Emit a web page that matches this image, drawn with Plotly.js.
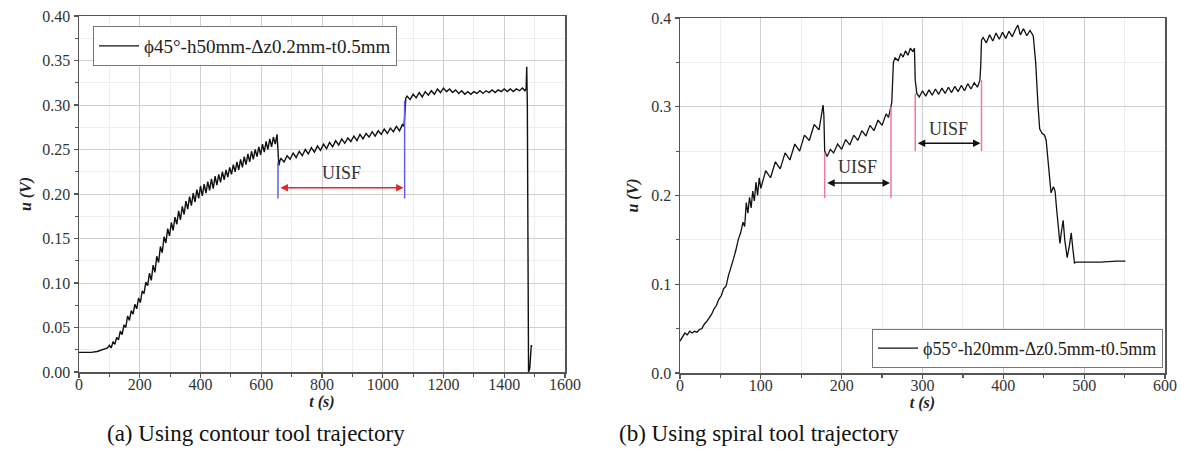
<!DOCTYPE html>
<html><head><meta charset="utf-8">
<script src="https://cdn.plot.ly/plotly-3.0.1.min.js"></script>
<style>html,body{margin:0;padding:0;background:#fff}#chart{width:1181px;height:455px}</style>
</head><body><div id="chart"></div>
<script>
// ---------- (a) contour tool trajectory ----------
const tA1 = [0,20,40,60,80,94];
const uA1 = [.022,.022,.022,.023,.025,.027];
const tA2 = [100,106,112,118,124,130,136,142,148,154,
  160,166,172,178,184,190,196,202,208,214,
  220,226,232,238,244,250,256,262,268,274,
  280,286,292,298,304,310,316,322,328,334,
  340,346,352,358,364,370,376,382,388,394,
  400,406,412,418,424,430,436,442,448,454,
  460,466,472,478,484,490,496,502,508,514,
  520,526,532,538,544,550,556,562,568,574,
  580,586,592,598,604,610,616,622,628,634,
  640,646,652,655,658,662];
const uA2 = [.030,.027,.034,.031,.039,.036,.046,.042,.053,.050,
  .063,.058,.069,.065,.076,.071,.083,.078,.091,.088,
  .101,.097,.111,.103,.120,.112,.130,.123,.141,.134,
  .152,.145,.161,.153,.168,.159,.174,.166,.181,.171,
  .186,.177,.192,.183,.197,.187,.201,.191,.205,.195,
  .209,.198,.211,.201,.214,.204,.217,.206,.220,.210,
  .222,.213,.225,.216,.227,.219,.230,.222,.233,.225,
  .236,.227,.239,.230,.242,.233,.245,.236,.248,.239,
  .250,.242,.253,.244,.256,.247,.259,.250,.262,.253,
  .264,.256,.267,.248,.232,.238];
const tA3 = [665,675,685,695,705,715,725,735,745,755,
  765,775,785,795,805,815,825,835,845,855,
  865,875,885,895,905,915,925,935,945,955,
  965,975,985,995,1005,1015,1025,1035,1045,1055,
  1065,1070,1073,1076];
const uA3 = [.240,.236,.243,.239,.246,.241,.248,.243,.250,.245,
  .252,.247,.254,.249,.256,.251,.258,.253,.260,.255,
  .262,.257,.263,.259,.265,.260,.267,.262,.268,.264,
  .270,.265,.271,.267,.273,.268,.274,.270,.276,.271,
  .278,.276,.300,.308];
const tA4 = [1080,1090,1100,1110,1120,1130,1140,1150,1160,1170,
  1180,1190,1200,1210,1220,1230,1240,1250,1260,1270,
  1280,1290,1300,1310,1320,1330,1340,1350,1360,1370,
  1380,1390,1400,1410,1420,1430,1440,1450,1460,
  1468,1472,1474,1476,1478,1480,1484,1487,1489,1491];
const uA4 = [.310,.306,.312,.308,.314,.309,.315,.311,.316,.312,
  .318,.314,.319,.315,.318,.314,.317,.313,.316,.312,
  .315,.312,.315,.313,.316,.313,.316,.314,.317,.314,
  .317,.315,.318,.315,.318,.315,.318,.316,.319,
  .316,.318,.343,.300,.150,.000,.004,.022,.030,.028];

// ---------- (b) spiral tool trajectory ----------
const tB1 = [0,3,6,9,12,15,18,21,24,27,
  30,33,36,39,42,45,48,51,54,57,
  60,63,66,69,72,75,78,80,82,84,
  86,88,90,92,94,96,98,100,106,112,
  118,124,130,136,142,148,154,160,166,172,
  177,178];
const uB1 = [.036,.040,.045,.043,.047,.045,.047,.046,.049,.050,
  .055,.058,.062,.066,.072,.076,.083,.087,.095,.098,
  .110,.118,.128,.138,.150,.158,.170,.165,.192,.180,
  .198,.186,.205,.194,.215,.200,.220,.208,.228,.220,
  .238,.230,.248,.240,.258,.250,.268,.262,.280,.274,
  .302,.290];
const tB2 = [179,182,186,190,195,200,205,210,
  215,220,225,230,235,240,245,250,255,258,
  261,262,264,266,270,273,276,279,282,285,
  288,290];
const uB2 = [.250,.244,.252,.248,.258,.252,.263,.257,
  .268,.262,.273,.267,.279,.273,.285,.279,.292,.288,
  .300,.305,.350,.355,.352,.360,.356,.363,.358,.366,
  .362,.366];
const tB3 = [291,293,296,300,304,308,312,316,
  320,324,328,332,336,340,344,348,352,356,
  360,364,368,371,372];
const uB3 = [.330,.315,.311,.318,.312,.319,.313,.320,
  .314,.321,.315,.322,.316,.323,.317,.324,.318,.326,
  .320,.327,.322,.330,.345];
const tB4 = [373,375,379,383,387,391,395,399,403,407,411,415,418,421,425,
  429,433,437,440,443,445,448,451,453,456,
  459,462,464,466,468,470,472,474,476,479,
  482,484,486,488,490,500,520,540,551];
const uB4 = [.375,.378,.372,.381,.374,.383,.376,.384,.377,.385,.379,.387,.392,.381,.388,
  .380,.386,.380,.350,.300,.275,.270,.268,.262,.230,
  .203,.210,.205,.184,.165,.146,.160,.172,.150,.130,
  .145,.158,.140,.124,.125,.125,.125,.126,.126];

const legendA = "ϕ45°-h50mm-Δz0.2mm-t0.5mm";
const legendB = "ϕ55°-h20mm-Δz0.5mm-t0.5mm";
const captions = ["(a) Using contour tool trajectory", "(b) Using spiral tool trajectory"];
const labelText = "UISF";
// UISF intervals (t) and levels (u)
const uisfA = {t: [655, 1072], top: [0.236, 0.305], bottom: 0.195, arrow: 0.207, text: 0.224};
const uisfB1 = {t: [179, 261], top: [0.248, 0.300], bottom: 0.197, arrow: 0.214, text: 0.232};
const uisfB2 = {t: [291, 373], top: [0.315, 0.330], bottom: 0.250, arrow: 0.259, text: 0.275};

const FONT = "Liberation Serif, 'Times New Roman', serif";

const traces = [
  {x: [].concat(tA1, tA2, tA3, tA4), y: [].concat(uA1, uA2, uA3, uA4), type: 'scatter', mode: 'lines',
   name: legendA, line: {color: '#111', width: 1.4}, xaxis: 'x', yaxis: 'y', legend: 'legend'},
  {x: [].concat(tB1, tB2, tB3, tB4), y: [].concat(uB1, uB2, uB3, uB4), type: 'scatter', mode: 'lines',
   name: legendB, line: {color: '#111', width: 1.3}, xaxis: 'x2', yaxis: 'y2', legend: 'legend2'}
];

function axisBase(extra) {
  return Object.assign({
    showline: true, mirror: true, linecolor: '#555', linewidth: 1.5,
    ticks: 'outside', ticklen: 4, tickcolor: '#555', tickwidth: 1.2,
    showgrid: true, gridcolor: '#cfcfcf', gridwidth: 1, zeroline: false,
    tickfont: {family: FONT, size: 16, color: '#333'},
    automargin: false, fixedrange: true
  }, extra);
}

const shapes = [];
const annotations = [];
function addUisf(u, xr, yr, lineColor, arrowColor) {
  for (let i = 0; i < 2; i++) {
    shapes.push({type: 'line', xref: xr, yref: yr, x0: u.t[i], x1: u.t[i], y0: u.bottom, y1: u.top[i],
      line: {color: lineColor, width: 1.5}});
  }
  annotations.push({xref: xr, yref: yr, axref: xr, ayref: yr, x: u.t[1], y: u.arrow, ax: u.t[0], ay: u.arrow,
    text: '', showarrow: true, arrowhead: 2, startarrowhead: 2, arrowside: 'end+start',
    arrowsize: 1, arrowwidth: 1.5, arrowcolor: arrowColor, standoff: 1, startstandoff: 1});
  annotations.push({xref: xr, yref: yr, x: (u.t[0] + u.t[1]) / 2, y: u.text, text: labelText, showarrow: false,
    font: {family: FONT, size: 18, color: '#333'}});
}
addUisf(uisfA, 'x', 'y', 'rgb(95,95,235)', 'rgb(225,40,40)');
addUisf(uisfB1, 'x2', 'y2', 'rgb(240,120,160)', '#111');
addUisf(uisfB2, 'x2', 'y2', 'rgb(240,120,160)', '#111');

annotations.push({xref: 'paper', yref: 'paper', x: 256 / 1181, y: 1 - 433 / 455, text: captions[0],
  showarrow: false, xanchor: 'center', yanchor: 'middle', font: {family: FONT, size: 23, color: '#111'}});
annotations.push({xref: 'paper', yref: 'paper', x: 759 / 1181, y: 1 - 433 / 455, text: captions[1],
  showarrow: false, xanchor: 'center', yanchor: 'middle', font: {family: FONT, size: 23, color: '#111'}});

const titleFont = {family: FONT, size: 16, color: '#222'};
const layout = {
  width: 1181, height: 455, margin: {l: 0, r: 0, t: 0, b: 0},
  paper_bgcolor: '#fff', plot_bgcolor: '#fff', showlegend: true,
  font: {family: FONT, color: '#222'},
  xaxis: axisBase({domain: [79 / 1181, 565 / 1181], range: [0, 1600], tick0: 0, dtick: 200, anchor: 'y',
    ticklabelstandoff: -7,
    minor: {dtick: 100, ticklen: 3, tickcolor: '#555', showgrid: true, gridcolor: '#eeeeee'},
    title: {text: '<b><i>t (s)</i></b>', font: titleFont, standoff: 0}}),
  yaxis: axisBase({domain: [83 / 455, 439 / 455], range: [0, 0.40], tick0: 0, dtick: 0.05, tickformat: '.2f', anchor: 'x',
    minor: {dtick: 0.025, ticklen: 3, tickcolor: '#555', showgrid: true, gridcolor: '#eeeeee'},
    title: {text: '<b><i>u (V)</i></b>', font: titleFont, standoff: 6}}),
  xaxis2: axisBase({domain: [680 / 1181, 1165 / 1181], range: [0, 600], tick0: 0, dtick: 100, anchor: 'y2',
    ticklabelstandoff: -7,
    minor: {dtick: 50, ticklen: 3, tickcolor: '#555', showgrid: true, gridcolor: '#eeeeee'},
    title: {text: '<b><i>t (s)</i></b>', font: titleFont, standoff: 0}}),
  yaxis2: axisBase({domain: [82 / 455, 437 / 455], range: [0, 0.4], tick0: 0, dtick: 0.1, tickformat: '.1f', anchor: 'x2',
    minor: {dtick: 0.05, ticklen: 3, tickcolor: '#555', showgrid: true, gridcolor: '#eeeeee'},
    title: {text: '<b><i>u (V)</i></b>', font: titleFont, standoff: 8}}),
  legend: {x: 93 / 1181, y: 1 - 26 / 455, xanchor: 'left', yanchor: 'top', bgcolor: '#fff',
    bordercolor: '#777', borderwidth: 1, font: {family: FONT, size: 19, color: '#222'}, itemwidth: 40},
  legend2: {x: 1163 / 1181, y: 1 - 368 / 455, xanchor: 'right', yanchor: 'bottom', bgcolor: '#fff',
    bordercolor: '#777', borderwidth: 1, font: {family: FONT, size: 18, color: '#222'}, itemwidth: 40},
  shapes: shapes, annotations: annotations
};

Plotly.newPlot('chart', traces, layout, {displayModeBar: false, staticPlot: true});
</script></body></html>
